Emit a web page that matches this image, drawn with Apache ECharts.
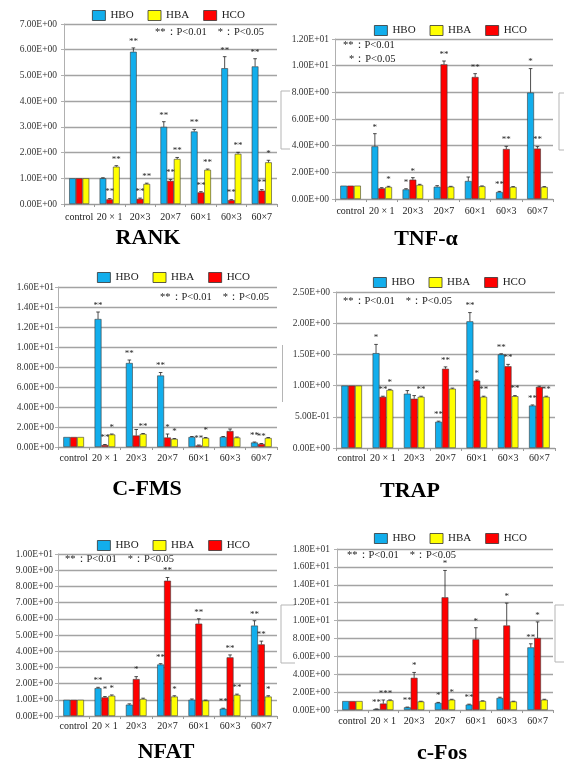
<!DOCTYPE html>
<html><head><meta charset="utf-8">
<script src="https://cdn.jsdelivr.net/npm/echarts@6/dist/echarts.min.js"></script>
<style>html,body{margin:0;padding:0;background:#fff}#c{width:564px;height:762px}</style>
</head><body><div id="c"></div>
<script>
const categories = ['control', '20 × 1', '20×3', '20×7', '60×1', '60×3', '60×7'];
const seriesNames = ['HBO', 'HCO', 'HBA'];
const legendNames = ['HBO', 'HBA', 'HCO'];
const panelTitles = ['RANK', 'TNF-α', 'C-FMS', 'TRAP', 'NFAT', 'c-Fos'];
const yMax = [7, 12, 16, 2.5, 10, 18];
const yStep = [1, 2, 2, 0.5, 1, 2];

// RANK
const rankHBO = [1.0, 1.0, 5.92, 3.0, 2.82, 5.28, 5.35];
const rankHCO = [1.0, 0.18, 0.2, 0.9, 0.45, 0.15, 0.52];
const rankHBA = [1.0, 1.45, 0.78, 1.75, 1.33, 1.95, 1.62];
const rankErrHBO = [0, 0.02, 0.15, 0.2, 0.08, 0.45, 0.3];
const rankErrHCO = [0, 0.03, 0.03, 0.05, 0.03, 0.02, 0.04];
const rankErrHBA = [0, 0.04, 0.03, 0.06, 0.03, 0.06, 0.08];
const rankSigHBO = ['', '', '**', '**', '**', '**', '**'];
const rankSigHCO = ['', '**', '**', '**', '**', '**', '**'];
const rankSigHBA = ['', '**', '**', '**', '**', '**', '*'];

// TNF-α
const tnfHBO = [1.0, 3.95, 0.72, 0.92, 1.35, 0.52, 7.98];
const tnfHCO = [1.0, 0.8, 1.45, 10.1, 9.15, 3.75, 3.78];
const tnfHBA = [1.0, 0.9, 1.05, 0.92, 0.95, 0.9, 0.9];
const tnfErrHBO = [0, 0.95, 0.05, 0.08, 0.3, 0.05, 1.8];
const tnfErrHCO = [0, 0.05, 0.15, 0.25, 0.25, 0.2, 0.15];
const tnfErrHBA = [0, 0.05, 0.05, 0.03, 0.03, 0.03, 0.03];
const tnfSigHBO = ['', '*', '*', '', '', '**', '*'];
const tnfSigHCO = ['', '', '*', '**', '**', '**', '**'];
const tnfSigHBA = ['', '*', '', '', '', '', ''];

// C-FMS
const cfmsHBO = [1.0, 12.8, 8.4, 7.15, 1.0, 1.0, 0.45];
const cfmsHCO = [1.0, 0.2, 1.15, 0.95, 0.15, 1.6, 0.3];
const cfmsHBA = [1.0, 1.25, 1.3, 0.8, 0.9, 0.95, 0.9];
const cfmsErrHBO = [0, 0.7, 0.3, 0.3, 0.05, 0.05, 0.05];
const cfmsErrHCO = [0, 0.05, 0.6, 0.35, 0.05, 0.2, 0.05];
const cfmsErrHBA = [0, 0.05, 0.05, 0.05, 0.05, 0.05, 0.05];
const cfmsSigHBO = ['', '**', '**', '**', '', '', '**'];
const cfmsSigHCO = ['', '**', '', '*', '**', '', '**'];
const cfmsSigHBA = ['', '*', '**', '*', '*', '', ''];

// TRAP
const trapHBO = [1.0, 1.52, 0.87, 0.42, 2.03, 1.5, 0.68];
const trapHCO = [1.0, 0.82, 0.79, 1.27, 1.08, 1.31, 0.98];
const trapHBA = [1.0, 0.93, 0.82, 0.95, 0.82, 0.83, 0.82];
const trapErrHBO = [0, 0.14, 0.05, 0.01, 0.14, 0.01, 0.01];
const trapErrHCO = [0, 0.01, 0.05, 0.03, 0.01, 0.03, 0.01];
const trapErrHBA = [0, 0.01, 0.01, 0.01, 0.01, 0.01, 0.01];
const trapSigHBO = ['', '*', '', '**', '**', '**', '**'];
const trapSigHCO = ['', '**', '', '**', '*', '**', ''];
const trapSigHBA = ['', '*', '**', '', '**', '**', '**'];

// NFAT
const nfatHBO = [1.0, 1.72, 0.7, 3.18, 1.0, 0.45, 5.58];
const nfatHCO = [1.0, 1.15, 2.28, 8.35, 5.7, 3.62, 4.42];
const nfatHBA = [1.0, 1.25, 1.05, 1.2, 0.95, 1.3, 1.2];
const nfatErrHBO = [0, 0.05, 0.05, 0.05, 0.05, 0.03, 0.3];
const nfatErrHCO = [0, 0.05, 0.15, 0.2, 0.3, 0.15, 0.2];
const nfatErrHBA = [0, 0.05, 0.05, 0.05, 0.03, 0.05, 0.05];
const nfatSigHBO = ['', '**', '', '**', '', '**', '**'];
const nfatSigHCO = ['', '*', '*', '**', '**', '**', '**'];
const nfatSigHBA = ['', '*', '', '*', '', '**', '*'];

// c-Fos
const cfosHBO = [1.0, 0.1, 0.3, 0.8, 0.6, 1.35, 7.0];
const cfosHCO = [1.0, 0.72, 3.6, 12.6, 7.9, 9.45, 8.05];
const cfosHBA = [1.0, 1.08, 0.95, 1.15, 1.0, 0.95, 1.15];
const cfosErrHBO = [0, 0.02, 0.03, 0.05, 0.05, 0.08, 0.4];
const cfosErrHCO = [0, 0.4, 0.6, 3.0, 1.3, 2.5, 1.8];
const cfosErrHBA = [0, 0.05, 0.03, 0.05, 0.03, 0.03, 0.05];
const cfosSigHBO = ['', '**', '**', '*', '**', '', '**'];
const cfosSigHCO = ['', '**', '*', '*', '*', '*', '*'];
const cfosSigHBA = ['', '*', '', '*', '', '', ''];

const vals = [
  [rankHBO, rankHCO, rankHBA], [tnfHBO, tnfHCO, tnfHBA], [cfmsHBO, cfmsHCO, cfmsHBA],
  [trapHBO, trapHCO, trapHBA], [nfatHBO, nfatHCO, nfatHBA], [cfosHBO, cfosHCO, cfosHBA]];
const errs = [
  [rankErrHBO, rankErrHCO, rankErrHBA], [tnfErrHBO, tnfErrHCO, tnfErrHBA], [cfmsErrHBO, cfmsErrHCO, cfmsErrHBA],
  [trapErrHBO, trapErrHCO, trapErrHBA], [nfatErrHBO, nfatErrHCO, nfatErrHBA], [cfosErrHBO, cfosErrHCO, cfosErrHBA]];
const sigs = [
  [rankSigHBO, rankSigHCO, rankSigHBA], [tnfSigHBO, tnfSigHCO, tnfSigHBA], [cfmsSigHBO, cfmsSigHCO, cfmsSigHBA],
  [trapSigHBO, trapSigHCO, trapSigHBA], [nfatSigHBO, nfatSigHCO, nfatSigHBA], [cfosSigHBO, cfosSigHCO, cfosSigHBA]];

// layout
const grids = [
  {left: 64, top: 24, width: 213, height: 180},
  {left: 335, top: 39, width: 218, height: 160},
  {left: 58, top: 287, width: 219, height: 160},
  {left: 336, top: 292, width: 219, height: 156},
  {left: 58, top: 554, width: 219, height: 162},
  {left: 337, top: 549, width: 216, height: 161}];
const legendPos = [[92, 10], [374, 25], [97, 272], [373, 277], [97, 540], [374, 533]];
const yLabelMargin = [7, 6, 4, 6, 5, 7];
const xLabelMargin = [8, 7, 6, 5, 5, 6];
const titlePos = [[148, 238], [426, 239], [147, 489], [410, 491], [166, 752], [442, 753]];
const colors = {HBO: '#12AEEC', HCO: '#FF0000', HBA: '#FFFF00'};
const SERIF = "'Liberation Serif','DejaVu Serif',serif";
const GAP = 0.34;

function sci(v) {
  const s = Number(v).toExponential(2).split('e');
  let e = parseInt(s[1], 10);
  const sign = e < 0 ? '-' : '+';
  e = Math.abs(e);
  return s[0] + 'E' + sign + (e < 10 ? '0' : '') + e;
}

const option = {
  backgroundColor: '#fff',
  animation: false,
  grid: grids.map(g => Object.assign({containLabel: false}, g)),
  xAxis: grids.map((g, p) => ({
    type: 'category', gridIndex: p, data: categories,
    axisLine: {lineStyle: {color: '#9a9a9a', width: 1}},
    axisTick: {show: true, length: 3, lineStyle: {color: '#9a9a9a'}},
    axisLabel: {fontFamily: SERIF, fontSize: 10, color: '#222', margin: xLabelMargin[p], interval: 0}
  })),
  yAxis: grids.map((g, p) => ({
    type: 'value', gridIndex: p, min: 0, max: yMax[p], interval: yStep[p],
    axisLine: {show: true, lineStyle: {color: '#b0b0b0'}},
    axisTick: {show: true, length: 3, lineStyle: {color: '#b0b0b0'}},
    splitLine: {lineStyle: {color: '#a3a3a3', width: 1.3}},
    axisLabel: {fontFamily: SERIF, fontSize: 9.5, color: '#333', margin: yLabelMargin[p], formatter: sci}
  })),
  legend: legendPos.map(lp => ({
    data: legendNames, left: lp[0], top: lp[1], padding: 0,
    itemWidth: 13, itemHeight: 10, itemGap: 14, icon: 'rect',
    itemStyle: {borderColor: '#333', borderWidth: 0.8},
    textStyle: {fontFamily: SERIF, fontSize: 11, color: '#222', padding: [0, 0, 0, 0]},
    selectedMode: false
  })),
  series: [],
  graphic: []
};

for (let p = 0; p < 6; p++) {
  for (let k = 0; k < 3; k++) {
    const nm = seriesNames[k];
    option.series.push({
      type: 'bar', name: nm, xAxisIndex: p, yAxisIndex: p,
      data: vals[p][k], barGap: '0%', barCategoryGap: (GAP * 100) + '%',
      itemStyle: {color: colors[nm], borderColor: '#3a3a3a', borderWidth: 0.6},
      z: 2
    });
  }
  for (let k = 0; k < 3; k++) {
    const e = errs[p][k], sg = sigs[p][k];
    option.series.push({
      type: 'custom', name: 'err' + p + k, xAxisIndex: p, yAxisIndex: p, z: 5, clip: false,
      data: vals[p][k].map((v, i) => [i, v]),
      encode: {x: 0, y: 1},
      renderItem: function (params, api) {
        const i = params.dataIndex;
        const cat = api.value(0), v = api.value(1);
        const base = api.coord([cat, v]);
        const tp = api.coord([cat, v + e[i]]);
        const band = api.size([1, 0])[0];
        const bw = band * (1 - GAP) / 3;
        const x = base[0] + (k - 1) * bw;
        const ch = [];
        if (e[i] > 0) {
          ch.push({type: 'line', shape: {x1: x, y1: base[1], x2: x, y2: tp[1]}, style: {stroke: '#222', lineWidth: 0.8}});
          ch.push({type: 'line', shape: {x1: x - 1.8, y1: tp[1], x2: x + 1.8, y2: tp[1]}, style: {stroke: '#222', lineWidth: 0.8}});
        }
        if (sg[i]) {
          ch.push({type: 'text', style: {text: sg[i], x: x, y: tp[1] - 2, align: 'center', verticalAlign: 'bottom',
            font: '9px ' + SERIF, fill: '#222'}});
        }
        return {type: 'group', children: ch};
      }
    });
  }
  option.graphic.push({type: 'text', left: titlePos[p][0], top: titlePos[p][1], silent: true,
    style: {text: panelTitles[p], font: 'bold 22px ' + SERIF, fill: '#000', align: 'center', verticalAlign: 'middle'},
    x: titlePos[p][0], y: titlePos[p][1]});
}

// titles via graphic: use explicit position
option.graphic = panelTitles.map((t, p) => ({
  type: 'text', x: titlePos[p][0], y: titlePos[p][1], silent: true,
  style: {text: t, font: 'bold 22px ' + SERIF, fill: '#000', align: 'center', verticalAlign: 'middle'}
}));

const notes = [
  [155, 32, '**：P<0.01　*：P<0.05'],
  [343, 45, '**：P<0.01'],
  [349, 59, '*：P<0.05'],
  [160, 297, '**：P<0.01　*：P<0.05'],
  [343, 301, '**：P<0.01　*：P<0.05'],
  [65, 559, '**：P<0.01　*：P<0.05'],
  [347, 555, '**：P<0.01　*：P<0.05']];
notes.forEach(n => option.graphic.push({
  type: 'text', x: n[0], y: n[1], silent: true,
  style: {text: n[2], font: '10.5px ' + SERIF, fill: '#222', align: 'left', verticalAlign: 'middle'}
}));

const brackets = [
  [[290, 91], [281, 91], [281, 149], [290, 149]],
  [[564, 93], [559, 93], [559, 150], [564, 150]],
  [[282.5, 345], [282.5, 402]],
  [[295, 605], [281, 605], [281, 663], [295, 663]],
  [[564, 605], [555, 605], [555, 662], [564, 662]]];
brackets.forEach(b => option.graphic.push({
  type: 'polyline', silent: true, shape: {points: b},
  style: {stroke: '#b5b5b5', lineWidth: 1, fill: null}
}));

const chart = echarts.init(document.getElementById('c'), null, {renderer: 'canvas'});
chart.setOption(option);
</script></body></html>
